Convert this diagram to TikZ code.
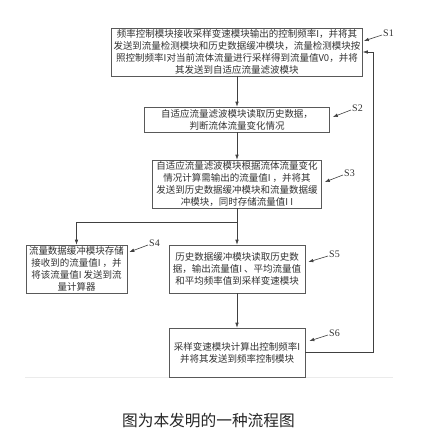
\documentclass[tikz,border=0pt]{standalone}
\usepackage{fontspec}
\setmainfont{Noto Sans CJK SC}
\newfontfamily\tagfont{Liberation Serif}
\usetikzlibrary{arrows.meta}
\begin{document}
\begin{tikzpicture}[x=1pt,y=-1pt]
\tikzstyle{every node}+=[inner sep=0pt]
\tikzstyle{stepbox}=[draw=black!65, line width=0.6pt, align=center, font=\fontsize{9.5}{12}\selectfont, text=black!80]
\tikzstyle{tag}=[anchor=west, inner sep=1pt, font=\tagfont\fontsize{10}{10}\selectfont, text=black!80]
\tikzstyle{flow}=[draw=black!75, line width=0.6pt, -{Latex[length=5pt,width=3.5pt]}]
\useasboundingbox (0,0) rectangle (430,448);
\fill [white] (0,0) rectangle (430,448);
\draw [black!8, line width=0.6pt] (25,377) -- (393,377);
\node [stepbox, minimum width=251pt, minimum height=48pt] (s1) at (237,52) {频率控制模块接收采样变速模块输出的控制频率I，并将其\\发送到流量检测模块和历史数据缓冲模块，流量检测模块按\\照控制频率I对当前流体流量进行采样得到流量值V0，并将\\其发送到自适应流量滤波模块};
\node [stepbox, minimum width=185pt, minimum height=25pt] (s2) at (237,119.5) {自适应流量滤波模块读取历史数据，\\判断流体流量变化情况};
\node [stepbox, minimum width=169pt, minimum height=48pt] (s3) at (237,184) {自适应流量滤波模块根据流体流量变化\\情况计算需输出的流量值I ，并将其\\发送到历史数据缓冲模块和流量数据缓\\冲模块，同时存储流量值I I};
\node [stepbox, minimum width=101pt, minimum height=48pt] (s4) at (76.5,269) {流量数据缓冲模块存储\\接收到的流量值I ，并\\将该流量值I 发送到流\\量计算器};
\node [stepbox, minimum width=136pt, minimum height=48pt] (s5) at (237,269) {历史数据缓冲模块读取历史数\\据，输出流量值I 、平均流量值\\和平均频率值到采样变速模块};
\node [stepbox, minimum width=136pt, minimum height=49pt] (s6) at (237,352.5) {采样变速模块计算出控制频率I\\并将其发送到频率控制模块};
\node [tag] (t1) at (382,33) {S1};
\node [tag] (t2) at (351,108) {S2};
\node [tag] (t3) at (343,173) {S3};
\node [tag] (t4) at (148,243) {S4};
\node [tag] (t5) at (328,254) {S5};
\node [tag] (t6) at (328,333) {S6};
\coordinate (br) at (237,222);
\coordinate (fb) at (373,352.5);
\draw [flow] (s1) -- (s2);
\draw [flow] (s2) -- (s3);
\draw [draw=black!75, line width=0.6pt] (s3.south) -- (br);
\draw [flow] (br) -| (s4.north);
\draw [flow] (br) -- (s5.north);
\draw [flow] (s5) -- (s6);
\draw [flow] (s6.east) -- (fb) |- (s1.east);
\draw [flow] ([yshift=-2pt]t1.west) -- ([xshift=1pt,yshift=11pt]s1.east);
\draw [flow] ([yshift=-2pt]t2.west) -- ([xshift=3pt,yshift=2.5pt]s2.east);
\draw [flow] ([yshift=-2pt]t3.west) -- ([xshift=3pt,yshift=2pt]s3.east);
\draw [flow] ([yshift=-2pt]t4.west) -- ([xshift=2pt,yshift=17pt]s4.east);
\draw [flow] ([yshift=-2pt]t5.west) -- ([xshift=3pt,yshift=7pt]s5.east);
\draw [flow] ([yshift=-2pt]t6.west) -- ([xshift=4pt,yshift=11.5pt]s6.east);
\node [font=\fontsize{15.7}{16}\selectfont, text=black!85] (cap) at (208.5,421) {图为本发明的一种流程图};
\end{tikzpicture}
\end{document}
